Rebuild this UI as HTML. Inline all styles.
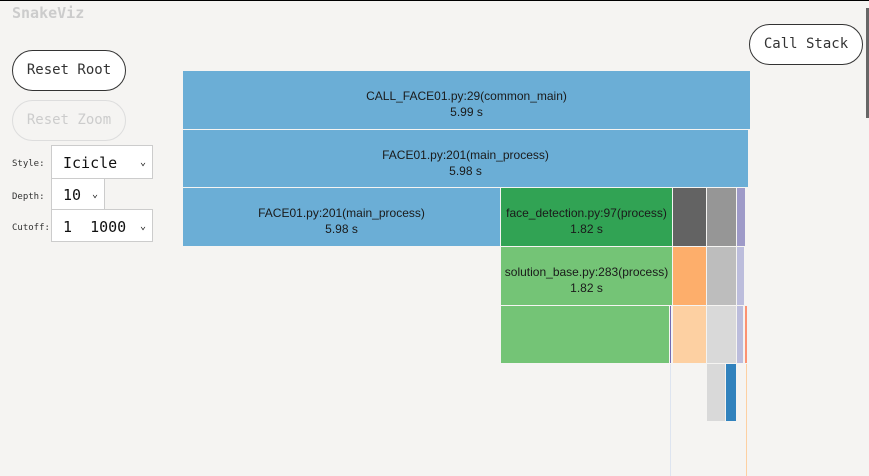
<!DOCTYPE html>
<html><head><meta charset="utf-8"><style>
body{margin:0;width:869px;height:476px;background:#f5f4f2;position:relative;overflow:hidden;font-family:"DejaVu Sans Mono","Liberation Mono",monospace;}
.a{position:absolute;box-sizing:border-box;}
.btn{border:1px solid #333;border-radius:22px;background:#fff;font-size:14px;color:#333;text-align:center;}
.sel{background:#fff;border:1px solid #ccc;font-size:15px;color:#111;}
.lbl{font-size:9px;color:#333;}
.r{position:absolute;box-sizing:border-box;padding-top:8px;font-family:"Liberation Sans",sans-serif;font-size:12px;color:#1a1a1a;text-align:center;line-height:16px;display:flex;flex-direction:column;justify-content:center;}
</style></head><body>
<div class="a" style="left:0;top:0;width:869px;height:1px;background:#000"></div>
<div class="a" style="left:866px;top:8px;width:3px;height:110px;background:#666"></div>
<div class="a" style="left:12px;top:4px;font-size:15px;font-weight:bold;color:#ccc">SnakeViz</div>
<div class="a btn" style="left:12px;top:50px;width:114px;height:41px;line-height:39px">Reset Root</div>
<div class="a btn" style="left:12px;top:100px;width:114px;height:41px;line-height:39px;border-color:#ddd;color:#ccc;background:transparent">Reset Zoom</div>
<div class="a lbl" style="left:12px;top:159px">Style:</div>
<div class="a lbl" style="left:12px;top:192px">Depth:</div>
<div class="a lbl" style="left:12px;top:223px">Cutoff:</div>
<div class="a sel" style="left:51px;top:145px;width:102px;height:34px;line-height:34px;padding-left:11px">Icicle<span style="position:absolute;right:6px;font-size:10px">⌄</span></div>
<div class="a sel" style="left:51px;top:178px;width:54px;height:32px;line-height:32px;padding-left:11px">10<span style="position:absolute;right:6px;font-size:10px">⌄</span></div>
<div class="a sel" style="left:51px;top:209px;width:102px;height:33px;line-height:34px;padding-left:11px">1&nbsp;&nbsp;1000<span style="position:absolute;right:6px;font-size:10px">⌄</span></div>
<div class="a btn" style="left:749px;top:24px;width:114px;height:41px;line-height:39px">Call Stack</div>

<div class="r" style="left:183px;top:71px;width:567px;height:58px;background:#6baed6">CALL_FACE01.py:29(common_main)<br>5.99 s</div>
<div class="r" style="left:183px;top:130px;width:565px;height:57px;background:#6baed6">FACE01.py:201(main_process)<br>5.98 s</div>
<div class="r" style="left:183px;top:188px;width:317px;height:58px;background:#6baed6">FACE01.py:201(main_process)<br>5.98 s</div>
<div class="r" style="left:501px;top:188px;width:171px;height:58px;background:#31a354">face_detection.py:97(process)<br>1.82 s</div>
<div class="a" style="left:673px;top:188px;width:33px;height:58px;background:#636363"></div>
<div class="a" style="left:707px;top:188px;width:29px;height:58px;background:#969696"></div>
<div class="a" style="left:737px;top:188px;width:8px;height:58px;background:#9e9ac8"></div>
<div class="r" style="left:501px;top:247px;width:171px;height:58px;background:#74c476">solution_base.py:283(process)<br>1.82 s</div>
<div class="a" style="left:673px;top:247px;width:33px;height:58px;background:#fdae6b"></div>
<div class="a" style="left:707px;top:247px;width:29px;height:58px;background:#bdbdbd"></div>
<div class="a" style="left:737px;top:247px;width:7px;height:58px;background:#bcbddc"></div>
<div class="a" style="left:501px;top:306px;width:168px;height:57px;background:#74c476"></div>
<div class="a" style="left:670px;top:306px;width:1px;height:57px;background:#756bb1"></div>
<div class="a" style="left:673px;top:306px;width:33px;height:57px;background:#fdd0a2"></div>
<div class="a" style="left:707px;top:306px;width:29px;height:57px;background:#d9d9d9"></div>
<div class="a" style="left:737px;top:306px;width:6px;height:57px;background:#bcbddc"></div>
<div class="a" style="left:745px;top:306px;width:2px;height:57px;background:#fc9272"></div>
<div class="a" style="left:707px;top:364px;width:18px;height:57px;background:#d9d9d9"></div>
<div class="a" style="left:726px;top:364px;width:10px;height:57px;background:#3182bd"></div>
<div class="a" style="left:670px;top:364px;width:1px;height:112px;background:#dde4f0"></div>
<div class="a" style="left:746px;top:364px;width:1px;height:112px;background:#fdd0a2"></div>
</body></html>
